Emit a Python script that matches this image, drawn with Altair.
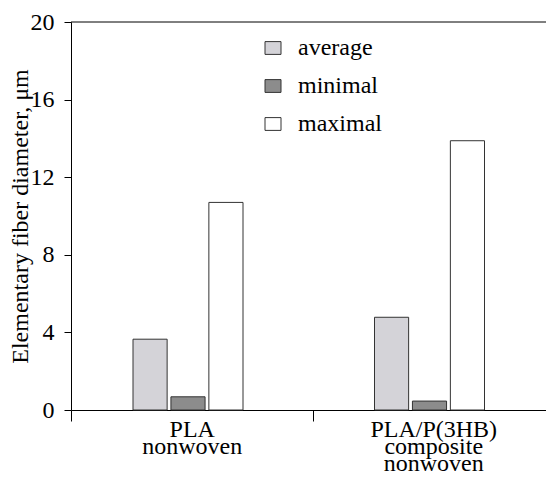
import altair as alt
import pandas as pd

groups = ["PLA|nonwoven", "PLA/P(3HB)|composite|nonwoven"]
series = ["average", "minimal", "maximal"]
pla_values = [3.65, 0.68, 10.7]
composite_values = [4.78, 0.46, 13.88]
colors = ["#d4d3d8", "#8c8c8c", "#ffffff"]
y_ticks = [0, 4, 8, 12, 16, 20]

rows = []
for g, vals in zip(groups, [pla_values, composite_values]):
    for s, v in zip(series, vals):
        rows.append({"group": g, "series": s, "value": v})
df = pd.DataFrame(rows)

font = "Liberation Serif"
fs = 24

bars = alt.Chart(df).mark_bar(stroke="#333333", strokeWidth=1).encode(
    x=alt.X(
        "group:N", sort=groups,
        scale=alt.Scale(paddingInner=0, paddingOuter=0),
        axis=alt.Axis(
            title=None, labelExpr="split(datum.label, '|')", labelAngle=0,
            tickBand="extent", tickSize=11, labelFontSize=fs, labelFont=font,
            labelColor="black", domainColor="black", tickColor="black",
            labelPadding=15, labelLineHeight=17, labelBaseline="alphabetic",
        ),
    ),
    xOffset=alt.XOffset(
        "series:N", sort=series,
        scale=alt.Scale(paddingInner=0.1, paddingOuter=0, range=[62, 172]),
    ),
    y=alt.Y(
        "value:Q", scale=alt.Scale(domain=[0, 20], nice=False),
        axis=alt.Axis(
            values=y_ticks, title="Elementary fiber diameter, μm",
            titleFont=font, titleFontSize=fs, titleFontWeight="normal",
            titleColor="black", titlePadding=-2,
            labelFont=font, labelFontSize=fs, labelColor="black",
            domainColor="black", tickColor="black", tickSize=7,
            labelPadding=10, grid=False,
        ),
    ),
    fill=alt.Fill(
        "series:N", sort=series,
        scale=alt.Scale(domain=series, range=colors),
        legend=alt.Legend(
            title=None, orient="none", legendX=190, legendY=14,
            symbolType="M-1,-0.8L1,-0.8L1,0.8L-1,0.8Z", symbolSize=256,
            symbolStrokeColor="#333333", symbolStrokeWidth=1,
            labelFont=font, labelFontSize=fs, labelColor="black",
            labelOffset=13, rowPadding=14, padding=0,
        ),
    ),
)

top_line = alt.Chart(pd.DataFrame({"v": [20]})).mark_rule(
    color="black", strokeWidth=1
).encode(y="v:Q")

chart = alt.layer(bars, top_line).properties(
    width=483, height=388,
    autosize=alt.AutoSizeParams(type="none"),
    padding={"left": 63, "top": 14, "right": -8, "bottom": 64},
).configure_view(strokeWidth=0)

chart.save("out.html", embed_options={"renderer": "svg", "actions": False})
